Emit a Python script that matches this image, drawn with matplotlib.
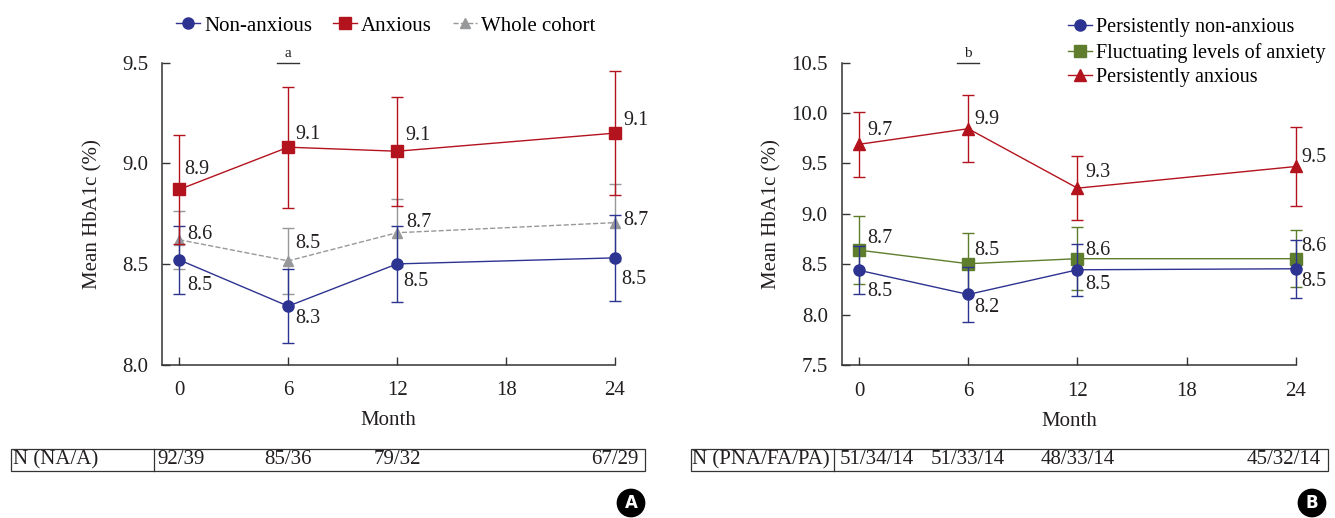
import matplotlib
matplotlib.use("Agg")
import matplotlib.pyplot as plt
from matplotlib.patches import Rectangle
from matplotlib.lines import Line2D

plt.rcParams['font.family'] = ['Liberation Serif', 'DejaVu Serif']

# ---------------- data ----------------
months = [0, 6, 12, 24]
xticks = [0, 6, 12, 18, 24]

# Panel A
a_nonanx_mean = [8.52, 8.29, 8.50, 8.53]
a_nonanx_err = [0.17, 0.185, 0.19, 0.215]
a_nonanx_lbl = ['8.5', '8.3', '8.5', '8.5']
a_anx_mean = [8.87, 9.08, 9.06, 9.15]
a_anx_err = [0.27, 0.30, 0.27, 0.31]
a_anx_lbl = ['8.9', '9.1', '9.1', '9.1']
a_whole_mean = [8.62, 8.515, 8.655, 8.705]
a_whole_err = [0.145, 0.165, 0.17, 0.19]
a_whole_lbl = ['8.6', '8.5', '8.7', '8.7']
a_n = ['92/39', '85/36', '79/32', '67/29']
a_n_head = 'N (NA/A)'

# Panel B
b_pna_mean = [8.44, 8.20, 8.445, 8.455]
b_pna_err = [0.24, 0.27, 0.26, 0.29]
b_pna_lbl = ['8.5', '8.2', '8.5', '8.5']
b_fa_mean = [8.64, 8.505, 8.555, 8.555]
b_fa_err = [0.34, 0.30, 0.31, 0.28]
b_fa_lbl = ['8.7', '8.5', '8.6', '8.6']
b_pa_mean = [9.69, 9.845, 9.255, 9.47]
b_pa_err = [0.32, 0.33, 0.32, 0.39]
b_pa_lbl = ['9.7', '9.9', '9.3', '9.5']
b_n = ['51/34/14', '51/33/14', '48/33/14', '45/32/14']
b_n_head = 'N (PNA/FA/PA)'

# ---------------- style ----------------
BLUE = '#2D3391'
RED = '#B3131D'
GRAY = '#97989A'
GREEN = '#5E7E2D'
SPINE = '#333333'
TXT = '#231F20'

W, H, DPI = 1335, 518, 100
fig = plt.figure(figsize=(W / DPI, H / DPI), dpi=DPI)


def fig_box(l, t, r, b):
    return [l / W, 1 - b / H, (r - l) / W, (b - t) / H]


axA = fig.add_axes(fig_box(162, 62.7, 615, 364.5))
axB = fig.add_axes(fig_box(841.7, 62.7, 1296, 365))


def style_axes(ax, ylim, yticks, ylab_x):
    ax.set_xlim(-0.95, 24)
    ax.set_ylim(*ylim)
    ax.set_xticks(xticks)
    ax.set_yticks(yticks)
    ax.set_yticklabels([f'{v:.1f}' for v in yticks])
    for s in ['top', 'right']:
        ax.spines[s].set_visible(False)
    for s in ['left', 'bottom']:
        ax.spines[s].set_color(SPINE)
        ax.spines[s].set_linewidth(1.1)
    ax.tick_params(axis='both', direction='in', length=6, width=1.0,
                   color=SPINE, labelsize=15, labelcolor=TXT)
    ax.tick_params(axis='y', pad=10)
    ax.tick_params(axis='x', pad=12)
    ax.set_ylabel('Mean HbA1c (%)', fontsize=15, color=TXT)
    ax.yaxis.set_label_coords(ylab_x, 0.5)
    ax.set_xlabel('Month', fontsize=15, color=TXT)
    ax.xaxis.set_label_coords(0.5, -0.155)
    ax.patch.set_alpha(0)


style_axes(axA, (8.0, 9.5), [8.0, 8.5, 9.0, 9.5], -0.132)
style_axes(axB, (7.5, 10.5), [7.5, 8.0, 8.5, 9.0, 9.5, 10.0, 10.5], -0.132)


def series(ax, mean, err, color, marker, ms, ls='-', ecolor=None, z=3):
    ax.errorbar(months, mean, yerr=err, color=color, ecolor=ecolor or color,
                marker=marker, markersize=ms, linestyle=ls, linewidth=1.0,
                elinewidth=1.0, capsize=4, capthick=1.0, zorder=z,
                clip_on=False)


def labels(ax, mean, lbls, offs):
    for x, y, t, (dx, dy) in zip(months, mean, lbls, offs):
        ax.annotate(t, (x, y), xytext=(dx, dy - 7), textcoords='offset pixels',
                    ha='left', va='baseline', fontsize=14.5, color=TXT,
                    annotation_clip=False)


# Panel A
series(axA, a_whole_mean, a_whole_err, GRAY, '^', 7, ls='--', z=2)
series(axA, a_nonanx_mean, a_nonanx_err, BLUE, 'o', 8, z=3)
series(axA, a_anx_mean, a_anx_err, RED, 's', 8, z=4)
labels(axA, a_anx_mean, a_anx_lbl, [(5, 22), (7, 15), (8, 18), (8, 15)])
labels(axA, a_nonanx_mean, a_nonanx_lbl, [(8, -23), (7, -10), (6, -15), (6, -19)])
labels(axA, a_whole_mean, a_whole_lbl, [(8, 8), (7, 20), (9, 13), (8, 5)])

# Panel B
series(axB, b_fa_mean, b_fa_err, GREEN, 's', 8, z=2)
series(axB, b_pna_mean, b_pna_err, BLUE, 'o', 8, z=3)
series(axB, b_pa_mean, b_pa_err, RED, '^', 8, z=4)
labels(axB, b_pa_mean, b_pa_lbl, [(8, 16), (6, 12), (8, 18), (5, 11)])
labels(axB, b_fa_mean, b_fa_lbl, [(8, 14), (6, 16), (8, 11), (5, 15)])
labels(axB, b_pna_mean, b_pna_lbl, [(8, -19), (6, -11), (8, -12), (5, -10)])

# significance marks above month 6
for ax, letter in [(axA, 'a'), (axB, 'b')]:
    top = ax.get_ylim()[1]
    ax.plot([months[1] - 0.6, months[1] + 0.6], [top, top], color=SPINE,
            lw=1.0, clip_on=False)
    ax.annotate(letter, (months[1], top), xytext=(0, 3), textcoords='offset pixels',
                ha='center', va='bottom', fontsize=11, color=TXT,
                annotation_clip=False)

# legends
hA = [Line2D([], [], color=BLUE, marker='o', ms=8, lw=1.0),
      Line2D([], [], color=RED, marker='s', ms=8, lw=1.0),
      Line2D([], [], color=GRAY, marker='^', ms=7, lw=1.0, ls='--')]
fig.legend(hA, ['Non-anxious', 'Anxious', 'Whole cohort'], loc='upper left',
           bbox_to_anchor=(176 / W, 1 - 16 / H), ncol=3, frameon=False,
           fontsize=15, handlelength=1.15, handletextpad=0.2,
           columnspacing=1.0, borderpad=0, borderaxespad=0)

hB = [Line2D([], [], color=BLUE, marker='o', ms=8, lw=1.0),
      Line2D([], [], color=GREEN, marker='s', ms=8, lw=1.0),
      Line2D([], [], color=RED, marker='^', ms=8, lw=1.0)]
fig.legend(hB, ['Persistently non-anxious', 'Fluctuating levels of anxiety',
                'Persistently anxious'], loc='upper left',
           bbox_to_anchor=(1068 / W, 1 - 18 / H), ncol=1, frameon=False,
           fontsize=14.5, handlelength=1.2, handletextpad=0.2,
           labelspacing=0.28, borderpad=0, borderaxespad=0)


# N tables below the plots
def n_table(ax, left, divider, right, head, counts, first_gap):
    top, bot = 449, 471
    tr = fig.dpi_scale_trans
    fig.add_artist(Rectangle((left / DPI, (H - bot) / DPI), (right - left) / DPI,
                             (bot - top) / DPI, transform=tr, fill=False,
                             ec=SPINE, lw=0.9))
    fig.add_artist(Line2D([divider / DPI] * 2, [(H - bot) / DPI, (H - top) / DPI],
                          transform=tr, color=SPINE, lw=0.9))
    yc = (H - (top + bot) / 2) / DPI
    fig.text((left + 2) / DPI, yc, head, transform=tr, ha='left', va='center',
             fontsize=15, color=TXT)
    for i, (m, c) in enumerate(zip(months, counts)):
        xpix = ax.transData.transform((m, 0))[0]
        ha = 'center'
        if i == 0:
            xpix, ha = divider + first_gap, 'left'
        if i == len(counts) - 1:
            xpix, ha = right - 7, 'right'
        fig.text(xpix / DPI, yc, c, transform=tr, ha=ha, va='center',
                 fontsize=15, color=TXT)


n_table(axA, 10.7, 154, 645, a_n_head, a_n, 3)
n_table(axB, 690.5, 834.3, 1328, b_n_head, b_n, 5)

# panel badges
for x, letter in [(631, 'A'), (1312, 'B')]:
    fig.text(x / W, 1 - 503 / H, letter, ha='center', va='center',
             fontsize=12, fontweight='bold', color='white', family='DejaVu Sans',
             bbox=dict(boxstyle='circle,pad=0.28', fc='black', ec='black'))

fig.savefig('out.png', dpi=DPI)
